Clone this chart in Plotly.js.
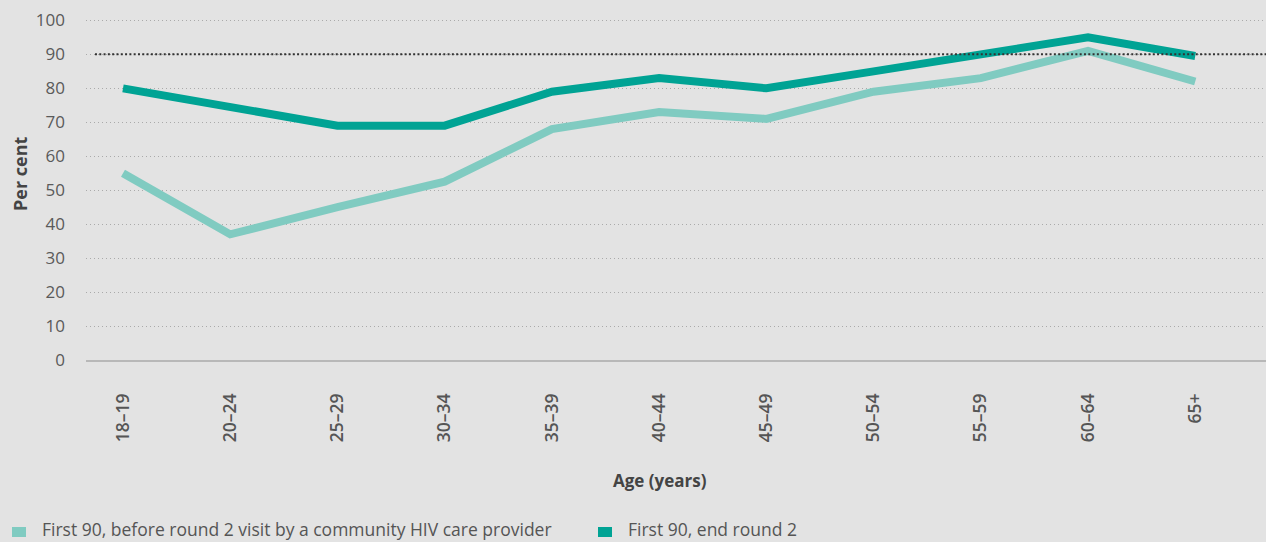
<!DOCTYPE html>
<html>
<head>
<meta charset="utf-8">
<script src="https://cdn.plot.ly/plotly-3.0.1.min.js"></script>
<style>
html,body{margin:0;padding:0;background:#e3e3e3;}
#chart{width:1266px;height:542px;}
</style>
</head>
<body>
<div id="chart"></div>
<script>
const ageGroups = ["18–19","20–24","25–29","30–34","35–39","40–44","45–49","50–54","55–59","60–64","65+"];
const beforeRound2 = [55, 37, 45, 52.5, 68, 73, 71, 79, 83, 91, 82];
const endRound2 = [80, 74.5, 69, 69, 79, 83, 80, 85, 90, 95, 89.5];
const seriesNames = ["First 90, before round 2 visit by a community HIV care provider", "First 90, end round 2"];
const targetLine = 90;

const lightTeal = "#80cbc1";
const darkTeal = "#00a394";

const traces = [
  {x: ageGroups, y: beforeRound2, name: seriesNames[0], type: "scatter", mode: "lines",
   line: {color: lightTeal, width: 8}, showlegend: false, hoverinfo: "x+y"},
  {x: ageGroups, y: endRound2, name: seriesNames[1], type: "scatter", mode: "lines",
   line: {color: darkTeal, width: 8}, showlegend: false, hoverinfo: "x+y"}
];

const font = "'Open Sans', Lato, sans-serif";
const layout = {
  width: 1266, height: 542,
  paper_bgcolor: "#e3e3e3", plot_bgcolor: "#e3e3e3",
  margin: {l: 86, r: 0, t: 17, b: 182},
  showlegend: false,
  font: {family: font, color: "#555"},
  xaxis: {
    type: "category", range: [-0.345, 10.66], showgrid: false, zeroline: false,
    showline: true, linecolor: "#b8b8b8", linewidth: 1.5,
    tickangle: -90, ticks: "", ticklabelstandoff: 25,
    tickfont: {family: font, size: 17.5, color: "#555", weight: 600}
  },
  yaxis: {
    range: [0, 101], dtick: 10, tick0: 0, showgrid: true, gridcolor: "#aaaaaa", gridwidth: 1,
    griddash: "1px,3px", zeroline: false, showline: false, ticks: "", ticklabelstandoff: 20,
    tickfont: {family: font, size: 17, color: "#5a5a5a"}
  },
  shapes: [
    {type: "line", xref: "paper", yref: "y", x0: 0.0076, x1: 1, y0: targetLine, y1: targetLine,
     line: {color: "#333", width: 2, dash: "2px,2.3px"}},
    {type: "rect", xref: "paper", yref: "paper", x0: (12-86)/1180, x1: (26-86)/1180,
     y0: (360-527)/343, y1: (360-537)/343, fillcolor: lightTeal, line: {width: 0}},
    {type: "rect", xref: "paper", yref: "paper", x0: (598-86)/1180, x1: (612-86)/1180,
     y0: (360-527)/343, y1: (360-537)/343, fillcolor: darkTeal, line: {width: 0}}
  ],
  annotations: [
    {text: "Per cent", xref: "paper", yref: "paper", x: (20-86)/1180, y: (360-174)/343,
     textangle: -90, showarrow: false, xanchor: "center", yanchor: "middle",
     font: {family: font, size: 18, color: "#444", weight: "bold"}},
    {text: "Age (years)", xref: "paper", yref: "paper", x: (660-86)/1180, y: (360-481)/343,
     showarrow: false, xanchor: "center", yanchor: "middle",
     font: {family: font, size: 17, color: "#444", weight: "bold"}},
    {text: seriesNames[0], xref: "paper", yref: "paper", x: (40-86)/1180, y: (360-529)/343,
     showarrow: false, xanchor: "left", yanchor: "middle",
     font: {family: font, size: 17.5, color: "#555"}},
    {text: seriesNames[1], xref: "paper", yref: "paper", x: (626-86)/1180, y: (360-529)/343,
     showarrow: false, xanchor: "left", yanchor: "middle",
     font: {family: font, size: 17.5, color: "#555"}}
  ]
};

Plotly.newPlot("chart", traces, layout, {displayModeBar: false, staticPlot: true});
</script>
</body>
</html>
